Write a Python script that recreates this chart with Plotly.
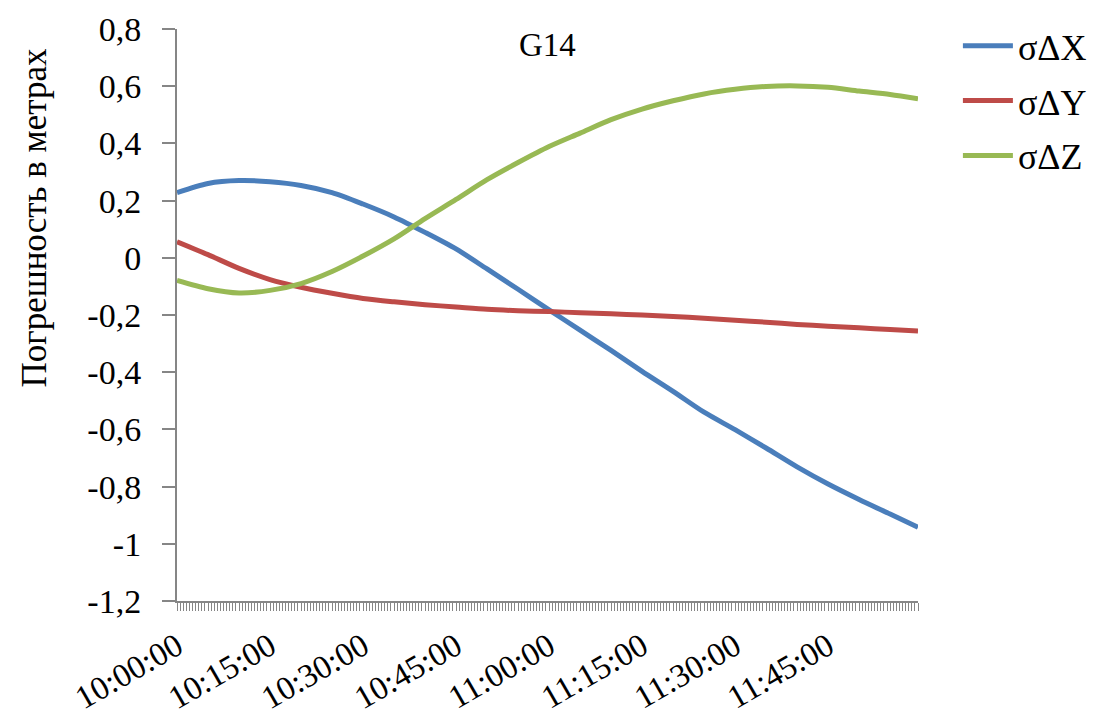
import plotly.graph_objects as go

# Observation epochs (every 5 minutes, last epoch 11:59:30)
times = ["10:00:00", "10:05:00", "10:10:00", "10:15:00", "10:20:00", "10:25:00",
         "10:30:00", "10:35:00", "10:40:00", "10:45:00", "10:50:00", "10:55:00",
         "11:00:00", "11:05:00", "11:10:00", "11:15:00", "11:20:00", "11:25:00",
         "11:30:00", "11:35:00", "11:40:00", "11:45:00", "11:50:00", "11:55:00",
         "11:59:30"]

# Coordinate errors, metres
sigma_dx = [0.228, 0.260, 0.270, 0.266, 0.253, 0.228, 0.188, 0.143, 0.089, 0.031,
            -0.039, -0.110, -0.182, -0.253, -0.324, -0.397, -0.467, -0.540, -0.601,
            -0.665, -0.731, -0.791, -0.845, -0.896, -0.942]
sigma_dy = [0.056, 0.011, -0.037, -0.076, -0.103, -0.124, -0.142, -0.154, -0.164,
            -0.172, -0.180, -0.185, -0.188, -0.192, -0.196, -0.200, -0.205, -0.211,
            -0.218, -0.225, -0.233, -0.239, -0.245, -0.251, -0.256]
sigma_dz = [-0.079, -0.108, -0.123, -0.114, -0.090, -0.048, 0.006, 0.066, 0.137,
            0.204, 0.273, 0.333, 0.389, 0.436, 0.483, 0.520, 0.549, 0.573, 0.589,
            0.599, 0.601, 0.596, 0.583, 0.571, 0.556]

series_names = ["σΔX", "σΔY", "σΔZ"]
series_colors = ["#4A7EBB", "#BE4B48", "#98B954"]

y_ticks = [0.8, 0.6, 0.4, 0.2, 0, -0.2, -0.4, -0.6, -0.8, -1, -1.2]
y_tick_text = ["0,8", "0,6", "0,4", "0,2", "0", "-0,2", "-0,4", "-0,6", "-0,8", "-1", "-1,2"]

day = "2024-01-01 "
x = [day + t for t in times]

FONT = "Liberation Serif, Times New Roman, serif"
AXIS_GREY = "#868686"

fig = go.Figure()
for i, (name, vals, col) in enumerate(zip(series_names, [sigma_dx, sigma_dy, sigma_dz], series_colors)):
    fig.add_trace(go.Scatter(
        x=x, y=vals, name=name, mode="lines",
        line=dict(color=col, width=5, shape="spline", smoothing=0.8),
        legendgroup=f"g{i}",
    ))

fig.update_layout(
    width=1096, height=722,
    margin=dict(l=177, r=178, t=29, b=121, autoexpand=False),
    paper_bgcolor="white", plot_bgcolor="white",
    font=dict(family=FONT, size=32, color="black"),
    showlegend=True,
    legend=dict(
        xref="container", yref="container",
        x=0.874, y=0.978, xanchor="left", yanchor="top",
        font=dict(family=FONT, size=36, color="black"),
        tracegroupgap=5, itemwidth=50, bgcolor="rgba(0,0,0,0)",
    ),
    annotations=[
        dict(text="G14", x=0.5, y=0.972, xref="paper", yref="paper",
             xanchor="center", yanchor="middle", showarrow=False,
             font=dict(family=FONT, size=33, color="black")),
        dict(text="Погрешность в метрах", x=-0.192, y=0.67, xref="paper", yref="paper",
             xanchor="center", yanchor="middle", textangle=-90, showarrow=False,
             font=dict(family=FONT, size=35, color="black")),
    ],
)

fig.update_xaxes(
    type="date", automargin=False,
    range=[day + times[0], day + times[-1]],
    tick0=day + times[0], dtick=15 * 60 * 1000,
    tickformat="%H:%M:%S", tickangle=-30,
    ticks="outside", ticklen=8, tickcolor=AXIS_GREY, tickwidth=1,
    minor=dict(ticks="outside", ticklen=8, dtick=30 * 1000, tickcolor=AXIS_GREY, tickwidth=1),
    showline=True, linecolor=AXIS_GREY, linewidth=2,
    showgrid=False, zeroline=False,
    tickfont=dict(family=FONT, size=33, color="black"),
    ticklabelstandoff=3,
)
fig.update_yaxes(
    automargin=False,
    range=[-1.2, 0.8],
    tickvals=y_ticks, ticktext=y_tick_text,
    ticks="outside", ticklen=13, tickcolor=AXIS_GREY, tickwidth=2,
    showline=True, linecolor=AXIS_GREY, linewidth=2,
    showgrid=False, zeroline=False,
    tickfont=dict(family=FONT, size=34, color="black"),
    ticklabelstandoff=14,
)

fig.write_html("out.html")
